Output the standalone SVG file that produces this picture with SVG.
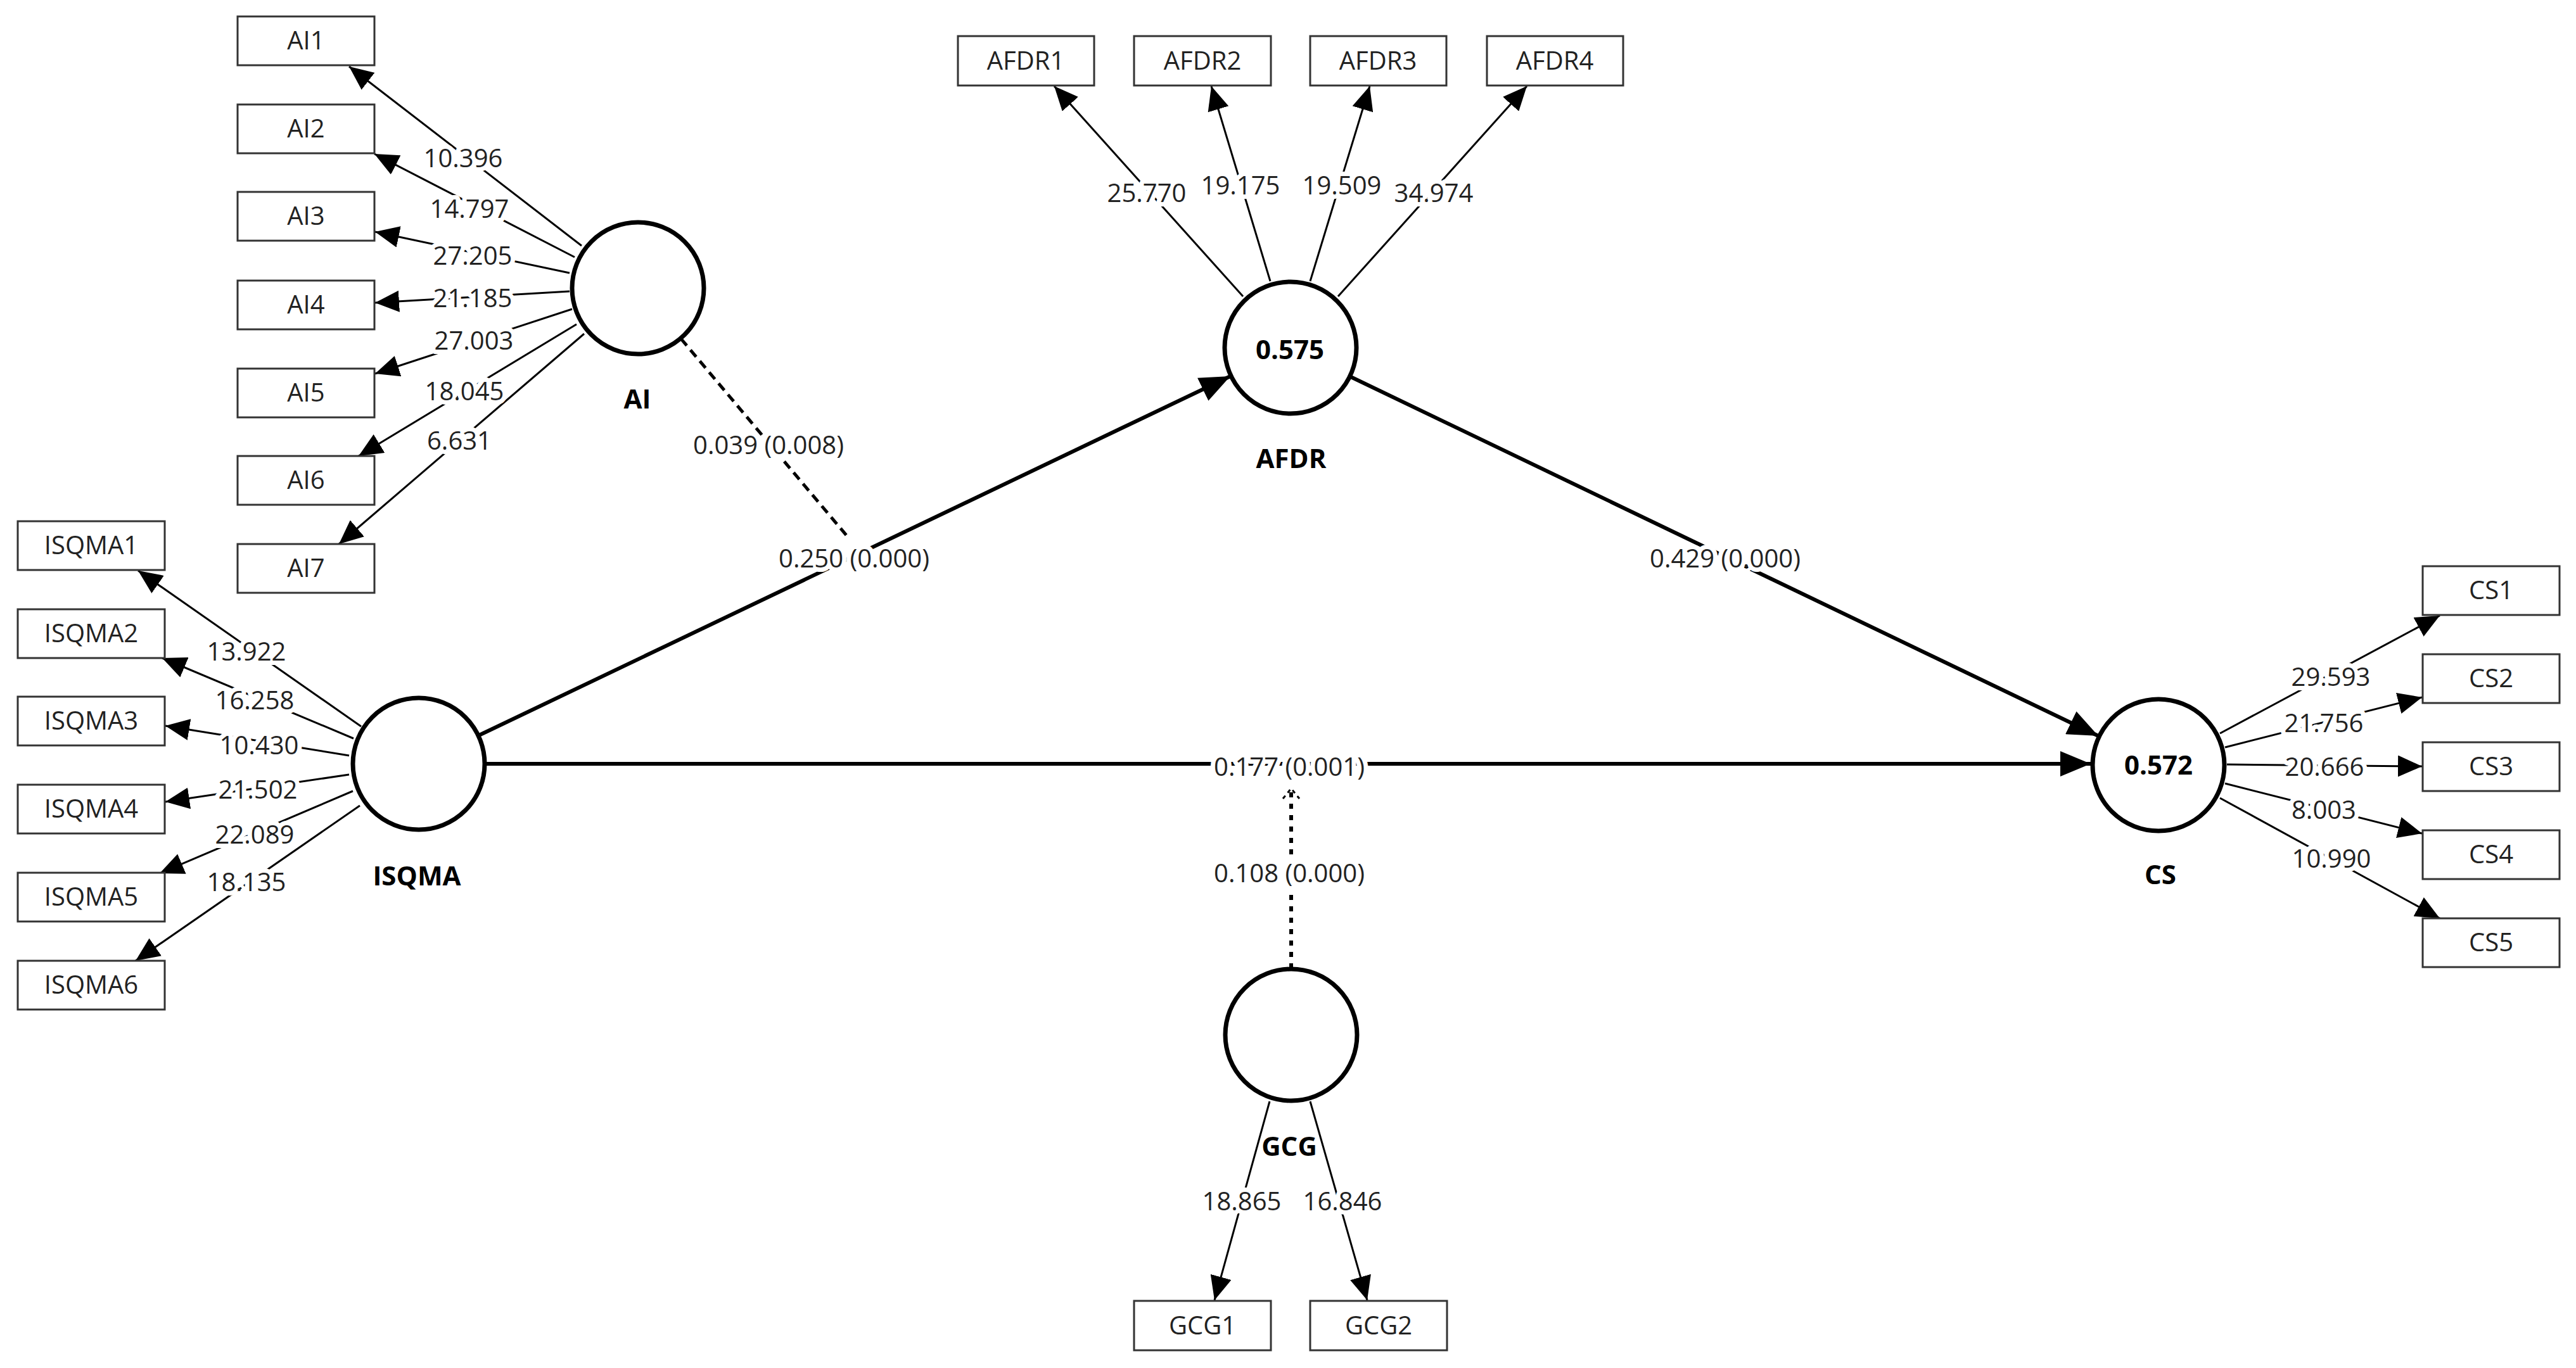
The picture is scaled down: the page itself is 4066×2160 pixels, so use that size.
<svg xmlns="http://www.w3.org/2000/svg" width="4066" height="2160" viewBox="0 0 4066 2160">
<defs>
<marker id="a" markerUnits="userSpaceOnUse" markerWidth="40" markerHeight="34" refX="38" refY="17" orient="auto"><path d="M0,0 L38,17 L0,34 Z" fill="#000"/></marker>
<marker id="b" markerUnits="userSpaceOnUse" markerWidth="50" markerHeight="40" refX="48" refY="20" orient="auto"><path d="M0,0 L48,20 L0,40 Z" fill="#000"/></marker>
<marker id="o" markerUnits="userSpaceOnUse" markerWidth="40" markerHeight="30" refX="20" refY="15" orient="auto"><path d="M4,2 L20,15 L4,28" fill="none" stroke="#000" stroke-width="3" stroke-dasharray="6 6"/></marker>
</defs>
<style>
.t{font-family:"Open Sans","Noto Sans",sans-serif;font-size:40px;fill:#222;text-anchor:middle}
.h{paint-order:stroke;stroke:#fff;stroke-width:14px;stroke-linejoin:round}
.bd{font-family:"Open Sans","Noto Sans",sans-serif;font-weight:bold;font-size:42px;fill:#000;text-anchor:middle}
.box{fill:#fff;stroke:#333;stroke-width:3}
.lv{fill:#fff;stroke:#000;stroke-width:7}
.l{stroke:#000;stroke-width:3;fill:none;marker-end:url(#a)}
.s{stroke:#000;stroke-width:6;fill:none;marker-end:url(#b)}
</style>
<g id="connectors">
<line class="s" x1="756" y1="1161" x2="1942" y2="594"/>
<line class="s" x1="2132" y1="595" x2="3312" y2="1162"/>
<line class="s" x1="766" y1="1206" x2="3300" y2="1206"/>
<line x1="1075" y1="535" x2="1340" y2="850" stroke="#000" stroke-width="5" stroke-dasharray="14 9"/>
<line x1="2038" y1="1529" x2="2038" y2="1245" stroke="#000" stroke-width="6" stroke-dasharray="8 10" marker-end="url(#o)"/>
<line class="l" x1="918" y1="388" x2="551" y2="105"/>
<line class="l" x1="907" y1="406" x2="591" y2="243"/>
<line class="l" x1="899" y1="431" x2="592" y2="366"/>
<line class="l" x1="899" y1="460" x2="592" y2="478"/>
<line class="l" x1="903" y1="488" x2="592" y2="590"/>
<line class="l" x1="910" y1="512" x2="566" y2="720"/>
<line class="l" x1="922" y1="527" x2="535" y2="859"/>
<line class="l" x1="570" y1="1147" x2="218" y2="901"/>
<line class="l" x1="558" y1="1166" x2="256" y2="1039"/>
<line class="l" x1="551" y1="1193" x2="261" y2="1146"/>
<line class="l" x1="551" y1="1223" x2="261" y2="1266"/>
<line class="l" x1="557" y1="1249" x2="252" y2="1379"/>
<line class="l" x1="568" y1="1272" x2="214" y2="1517"/>
<line class="l" x1="1962" y1="468" x2="1664" y2="136"/>
<line class="l" x1="2005" y1="444" x2="1912" y2="136"/>
<line class="l" x1="2068" y1="444" x2="2162" y2="136"/>
<line class="l" x1="2112" y1="468" x2="2410" y2="136"/>
<line class="l" x1="3504" y1="1158" x2="3851" y2="972"/>
<line class="l" x1="3512" y1="1180" x2="3823" y2="1101"/>
<line class="l" x1="3515" y1="1207" x2="3823" y2="1210"/>
<line class="l" x1="3512" y1="1237" x2="3823" y2="1316"/>
<line class="l" x1="3504" y1="1260" x2="3851" y2="1450"/>
<line class="l" x1="2004" y1="1739" x2="1917" y2="2053"/>
<line class="l" x1="2068" y1="1739" x2="2158" y2="2053"/>
<g class="t h">
<text x="1348" y="896">0.250 (0.000)</text>
<text x="1213" y="717">0.039 (0.008)</text>
<text x="2723" y="896">0.429 (0.000)</text>
<text x="2035" y="1225">0.177 (0.001)</text>
<text x="2035" y="1393">0.108 (0.000)</text>
<text x="731" y="264">10.396</text><text x="741" y="344">14.797</text><text x="746" y="418">27.205</text><text x="746" y="485">21.185</text><text x="748" y="552">27.003</text><text x="733" y="632">18.045</text><text x="725" y="710">6.631</text>
<text x="389" y="1043">13.922</text><text x="402" y="1120">16.258</text><text x="409" y="1191">10.430</text><text x="407" y="1261">21.502</text><text x="402" y="1332">22.089</text><text x="389" y="1407">18.135</text>
<text x="1810" y="319">25.770</text><text x="1958" y="307">19.175</text><text x="2118" y="307">19.509</text><text x="2263" y="319">34.974</text>
<text x="3679" y="1083">29.593</text><text x="3668" y="1156">21.756</text><text x="3669" y="1225">20.666</text><text x="3668" y="1293">8.003</text><text x="3680" y="1370">10.990</text>
<text x="1960" y="1911">18.865</text><text x="2119" y="1911">16.846</text>
</g>
</g>
<g id="AI"><circle class="lv" cx="1007" cy="455" r="104"/><text class="bd" x="1006" y="645">AI</text></g>
<g id="ISQMA"><circle class="lv" cx="661" cy="1206" r="104"/><text class="bd" x="658" y="1398">ISQMA</text></g>
<g id="AFDR"><circle class="lv" cx="2037" cy="549" r="104"/><text class="bd" x="2036" y="567">0.575</text><text class="bd" x="2038" y="739">AFDR</text></g>
<g id="CS"><circle class="lv" cx="3407" cy="1208" r="104"/><text class="bd" x="3407" y="1223">0.572</text><text class="bd" x="3410" y="1396">CS</text></g>
<g id="GCG"><circle class="lv" cx="2038" cy="1634" r="104"/><text class="bd" x="2035" y="1825">GCG</text></g>
<g id="indicators" class="t">
<g id="AI1"><rect class="box" x="375" y="26" width="216" height="77"/><text x="483" y="78">AI1</text></g>
<g id="AI2"><rect class="box" x="375" y="165" width="216" height="77"/><text x="483" y="217">AI2</text></g>
<g id="AI3"><rect class="box" x="375" y="303" width="216" height="77"/><text x="483" y="355">AI3</text></g>
<g id="AI4"><rect class="box" x="375" y="443" width="216" height="77"/><text x="483" y="495">AI4</text></g>
<g id="AI5"><rect class="box" x="375" y="582" width="216" height="77"/><text x="483" y="634">AI5</text></g>
<g id="AI6"><rect class="box" x="375" y="720" width="216" height="77"/><text x="483" y="772">AI6</text></g>
<g id="AI7"><rect class="box" x="375" y="859" width="216" height="77"/><text x="483" y="911">AI7</text></g>
<g id="ISQMA1"><rect class="box" x="28" y="823" width="232" height="77"/><text x="144" y="875">ISQMA1</text></g>
<g id="ISQMA2"><rect class="box" x="28" y="962" width="232" height="77"/><text x="144" y="1014">ISQMA2</text></g>
<g id="ISQMA3"><rect class="box" x="28" y="1100" width="232" height="77"/><text x="144" y="1152">ISQMA3</text></g>
<g id="ISQMA4"><rect class="box" x="28" y="1239" width="232" height="77"/><text x="144" y="1291">ISQMA4</text></g>
<g id="ISQMA5"><rect class="box" x="28" y="1378" width="232" height="77"/><text x="144" y="1430">ISQMA5</text></g>
<g id="ISQMA6"><rect class="box" x="28" y="1517" width="232" height="77"/><text x="144" y="1569">ISQMA6</text></g>
<g id="AFDR1"><rect class="box" x="1512" y="57" width="215" height="78"/><text x="1619" y="110">AFDR1</text></g>
<g id="AFDR2"><rect class="box" x="1790" y="57" width="216" height="78"/><text x="1898" y="110">AFDR2</text></g>
<g id="AFDR3"><rect class="box" x="2068" y="57" width="215" height="78"/><text x="2175" y="110">AFDR3</text></g>
<g id="AFDR4"><rect class="box" x="2347" y="57" width="215" height="78"/><text x="2454" y="110">AFDR4</text></g>
<g id="CS1"><rect class="box" x="3824" y="894" width="216" height="77"/><text x="3932" y="946">CS1</text></g>
<g id="CS2"><rect class="box" x="3824" y="1033" width="216" height="77"/><text x="3932" y="1085">CS2</text></g>
<g id="CS3"><rect class="box" x="3824" y="1172" width="216" height="77"/><text x="3932" y="1224">CS3</text></g>
<g id="CS4"><rect class="box" x="3824" y="1311" width="216" height="77"/><text x="3932" y="1363">CS4</text></g>
<g id="CS5"><rect class="box" x="3824" y="1450" width="216" height="77"/><text x="3932" y="1502">CS5</text></g>
<g id="GCG1"><rect class="box" x="1790" y="2054" width="216" height="78"/><text x="1898" y="2107">GCG1</text></g>
<g id="GCG2"><rect class="box" x="2068" y="2054" width="216" height="78"/><text x="2176" y="2107">GCG2</text></g>
</g>
</svg>
